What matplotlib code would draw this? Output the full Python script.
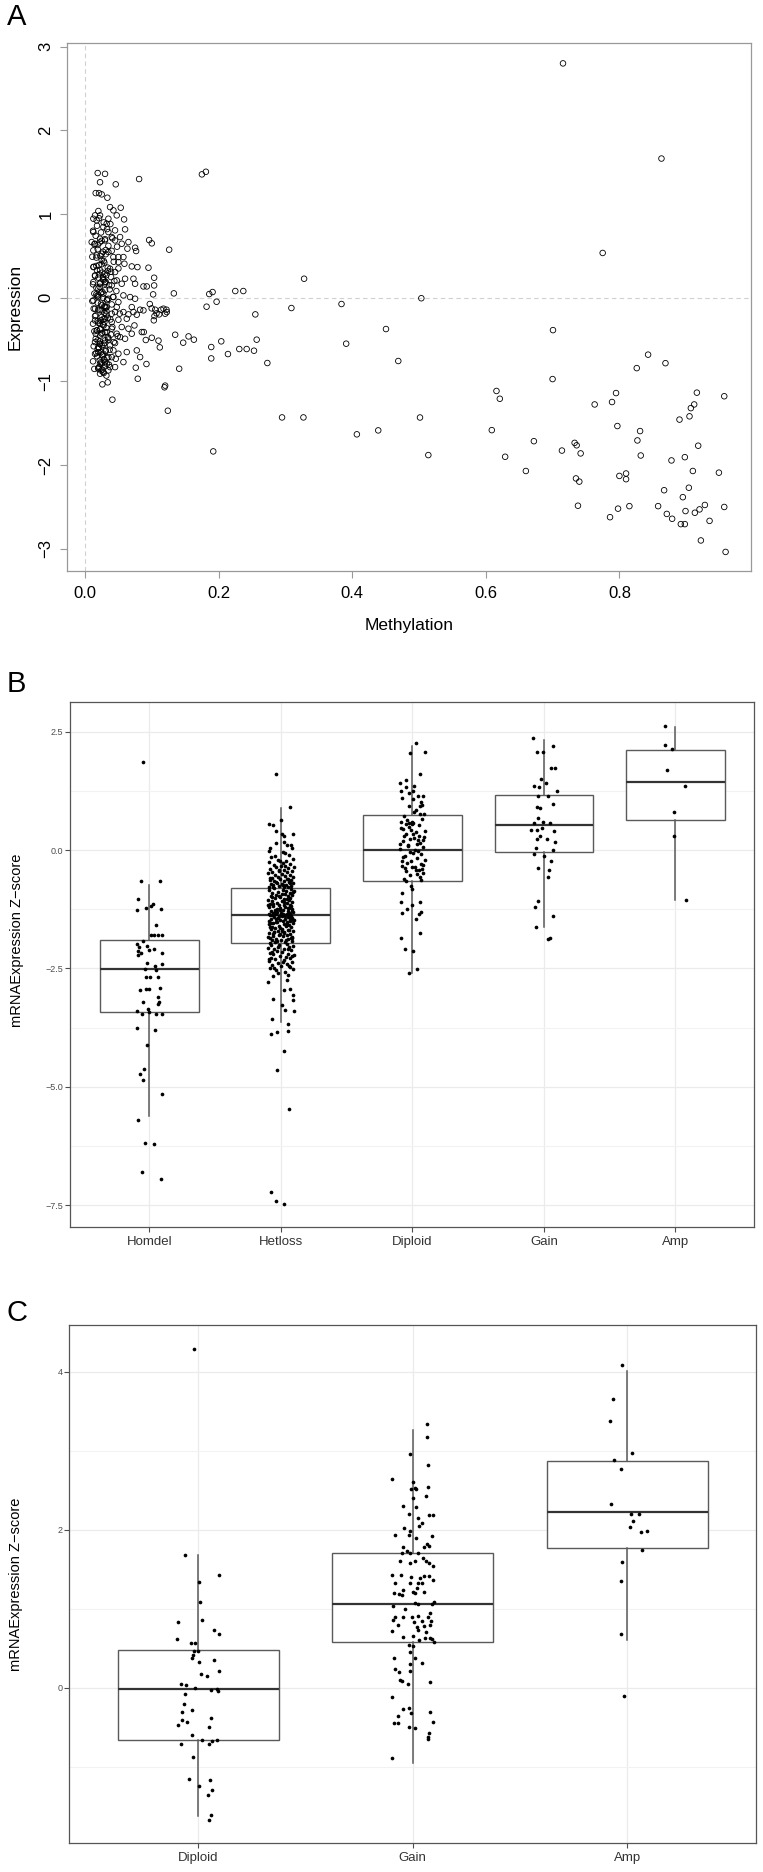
import matplotlib
matplotlib.use("Agg")
import matplotlib.pyplot as plt
from matplotlib.ticker import FixedLocator

plt.rcParams["font.family"] = ["Liberation Sans", "DejaVu Sans"]

# ---------------- Panel A: methylation vs expression ----------------
METH_SPARSE = [0.175, 0.181, 0.081, 0.328, 0.126, 0.133, 0.225, 0.237, 0.186, 0.191,
               0.182, 0.197, 0.255, 0.309, 0.384, 0.102, 0.096, 0.1, 0.095,
               0.4506, 0.391, 0.469, 0.135, 0.147, 0.155, 0.163, 0.141, 0.189, 0.189,
               0.204, 0.214, 0.231, 0.242, 0.253, 0.257, 0.273, 0.295, 0.327, 0.407,
               0.439, 0.192, 0.12, 0.119, 0.124, 0.041, 0.026, 0.034, 0.079, 0.076,
               0.092, 0.11, 0.112, 0.1, 0.091, 0.085, 0.088, 0.103, 0.12, 0.122,
               0.114, 0.097, 0.0998, 0.107, 0.111, 0.104,
               0.7156, 0.863, 0.775, 0.5035, 0.7006, 0.700, 0.843, 0.869, 0.826, 0.616,
               0.621, 0.5015, 0.514, 0.609, 0.629, 0.672, 0.66, 0.714, 0.733, 0.736,
               0.742, 0.735, 0.74, 0.738, 0.763, 0.789, 0.795, 0.797, 0.8, 0.81,
               0.81, 0.798, 0.786, 0.815, 0.827, 0.831, 0.832, 0.858, 0.867, 0.871,
               0.879, 0.878, 0.89, 0.898, 0.905, 0.907, 0.912, 0.916, 0.918, 0.91,
               0.904, 0.895, 0.899, 0.892, 0.898, 0.913, 0.92, 0.928, 0.935, 0.922,
               0.949, 0.957, 0.957, 0.959]
EXPR_SPARSE = [1.474, 1.505, 1.418, 0.227, 0.574, 0.052, 0.08, 0.08, 0.044, 0.068,
               -0.107, -0.048, -0.199, -0.123, -0.075, 0.04, 0.689, 0.65, 0.359,
               -0.374, -0.549, -0.756, -0.442, -0.537, -0.462, -0.501, -0.848, -0.589, -0.725,
               -0.521, -0.673, -0.613, -0.613, -0.633, -0.501, -0.78, -1.43, -1.43, -1.632,
               -1.585, -1.836, -1.05, -1.07, -1.35, -1.218, -1.035, -1.011, -0.968, -0.836,
               -0.792, -0.513, -0.593, -0.478, -0.505, -0.41, -0.41, -0.27, -0.191, -0.143,
               -0.143, -0.075, -0.127, -0.187, -0.199, -0.219,
               2.80, 1.663, 0.535, -0.006, -0.387, -0.972, -0.68, -0.782, -0.841, -1.114,
               -1.207, -1.431, -1.88, -1.582, -1.9, -1.714, -2.07, -1.826, -1.734, -1.763,
               -1.86, -2.159, -2.197, -2.485, -1.275, -1.246, -1.139, -1.533, -2.129, -2.1,
               -2.168, -2.52, -2.622, -2.49, -1.705, -1.593, -1.885, -2.49, -2.3, -2.583,
               -2.641, -1.944, -1.456, -1.905, -1.417, -1.319, -1.275, -1.134, -1.768, -2.07,
               -2.27, -2.383, -2.549, -2.705, -2.705, -2.569, -2.529, -2.476, -2.666, -2.9,
               -2.09, -1.177, -2.5, -3.037]

METH_NEAR = [0.019, 0.030, 0.0225, 0.046, 0.016, 0.021, 0.025, 0.0335, 0.0375, 0.0425,
             0.0535, 0.0475, 0.0585, 0.06, 0.0125, 0.0175, 0.02, 0.015, 0.0225, 0.035,
             0.0325, 0.0275, 0.035, 0.045, 0.04, 0.0125, 0.01, 0.015, 0.0225, 0.03,
             0.045, 0.0525, 0.055, 0.065, 0.0635, 0.075, 0.0765, 0.0125, 0.0175, 0.025,
             0.035, 0.0425, 0.05, 0.0575, 0.059, 0.05, 0.07, 0.0785, 0.0125, 0.015,
             0.0225, 0.03, 0.0375, 0.045, 0.039, 0.0125, 0.0225, 0.03, 0.04, 0.0475,
             0.055, 0.06, 0.0725, 0.075, 0.0875, 0.0925, 0.1035, 0.1035, 0.0125, 0.02,
             0.0275, 0.035, 0.0425, 0.05, 0.0575, 0.0675, 0.075, 0.015, 0.025, 0.0325,
             0.04, 0.0475, 0.0575, 0.07, 0.0725, 0.0825, 0.105, 0.1175, 0.1225, 0.015,
             0.0225, 0.03, 0.04, 0.05, 0.0625, 0.065, 0.0775, 0.0875, 0.0175, 0.025,
             0.0325, 0.04, 0.0475, 0.055, 0.065, 0.074, 0.015, 0.0225, 0.03, 0.0375,
             0.045, 0.0525, 0.06, 0.07, 0.02, 0.0275, 0.035, 0.0425, 0.05, 0.0625,
             0.0775, 0.0825, 0.0225, 0.03, 0.0375, 0.045, 0.0575, 0.02, 0.0275, 0.035,
             0.0225]
EXPR_NEAR = [1.49, 1.48, 1.38, 1.355, 1.25, 1.25, 1.235, 1.195, 1.083, 1.044,
             1.076, 0.984, 0.936, 0.817, 0.944, 0.924, 1.036, 0.984, 0.984, 0.944,
             0.884, 0.845, 0.785, 0.805, 0.725, 0.785, 0.665, 0.645, 0.705, 0.685,
             0.685, 0.725, 0.645, 0.665, 0.586, 0.598, 0.558, 0.566, 0.506, 0.526,
             0.546, 0.486, 0.486, 0.486, 0.406, 0.426, 0.374, 0.366, 0.366, 0.267,
             0.327, 0.287, 0.347, 0.307, 0.247, 0.187, 0.167, 0.187, 0.147, 0.207,
             0.167, 0.227, 0.227, 0.167, 0.135, 0.135, 0.239, 0.147, -0.032, 0.008,
             0.048, -0.012, 0.008, -0.052, 0.028, 0.008, -0.012, -0.131, -0.151, -0.112,
             -0.191, -0.112, -0.171, -0.112, -0.171, -0.143, -0.143, -0.131, -0.171, -0.271,
             -0.311, -0.251, -0.291, -0.263, -0.251, -0.199, -0.203, -0.151, -0.39, -0.43,
             -0.41, -0.37, -0.43, -0.35, -0.37, -0.331, -0.53, -0.55, -0.51, -0.57,
             -0.542, -0.47, -0.49, -0.43, -0.65, -0.669, -0.709, -0.629, -0.669, -0.649,
             -0.629, -0.709, -0.789, -0.769, -0.829, -0.829, -0.769, -0.849, -0.888, -0.868,
             -0.908]

METH_CORE = [0.021, 0.028, 0.018, 0.033, 0.024, 0.016, 0.03, 0.022, 0.035, 0.019,
             0.027, 0.031, 0.017, 0.025, 0.029, 0.021, 0.034, 0.018, 0.026, 0.032,
             0.02, 0.028, 0.023, 0.036, 0.017, 0.03, 0.024, 0.02, 0.027, 0.033,
             0.019, 0.025, 0.031, 0.022, 0.029, 0.016, 0.034, 0.024, 0.02, 0.028,
             0.032, 0.018, 0.026, 0.023, 0.035, 0.019, 0.029, 0.025, 0.021, 0.031,
             0.017, 0.027, 0.033, 0.022, 0.026, 0.03, 0.02, 0.024, 0.028, 0.032,
             0.038, 0.012, 0.041, 0.014, 0.04, 0.011, 0.043, 0.013, 0.039, 0.015,
             0.044, 0.012, 0.037, 0.014, 0.042, 0.011, 0.04, 0.013, 0.045, 0.015,
             0.038, 0.012, 0.041, 0.014, 0.039, 0.016, 0.043, 0.013, 0.037, 0.015,
             0.04, 0.012, 0.036, 0.014, 0.048, 0.05, 0.047, 0.052, 0.049, 0.046,
             0.025, 0.019, 0.031, 0.023, 0.028, 0.017, 0.034, 0.021, 0.027, 0.03,
             0.022, 0.026, 0.018, 0.033, 0.024, 0.029, 0.02, 0.032, 0.025, 0.019,
             0.027, 0.023, 0.03, 0.016, 0.034, 0.022, 0.028, 0.02, 0.031, 0.025,
             0.018, 0.029, 0.024, 0.033, 0.021, 0.026, 0.03, 0.017, 0.028, 0.023,
             0.035, 0.02, 0.027, 0.032, 0.019, 0.025, 0.029, 0.022, 0.031, 0.024]
EXPR_CORE = [0.95, 0.9, 0.86, 0.82, 0.78, 0.74, 0.7, 0.66, 0.62, 0.58,
             0.55, 0.52, 0.48, 0.45, 0.42, 0.39, 0.36, 0.33, 0.3, 0.27,
             0.24, 0.21, 0.18, 0.15, 0.12, 0.09, 0.06, 0.03, 0.0, -0.03,
             -0.06, -0.09, -0.12, -0.15, -0.18, -0.21, -0.24, -0.27, -0.3, -0.33,
             -0.36, -0.39, -0.42, -0.45, -0.48, -0.51, -0.54, -0.57, -0.6, -0.63,
             -0.66, -0.69, -0.72, -0.75, -0.78, -0.81, -0.84, -0.87, -0.9, -0.93,
             0.88, 0.8, 0.71, 0.64, 0.56, 0.49, 0.43, 0.37, 0.31, 0.26,
             0.2, 0.16, 0.1, 0.05, 0.01, -0.04, -0.08, -0.13, -0.17, -0.22,
             -0.26, -0.31, -0.35, -0.4, -0.44, -0.49, -0.53, -0.58, -0.62, -0.67,
             -0.71, -0.76, -0.8, -0.85, 0.61, 0.35, 0.08, -0.19, -0.46, -0.73,
             0.68, 0.63, 0.57, 0.5, 0.44, 0.38, 0.32, 0.28, 0.22, 0.17,
             0.13, 0.07, 0.02, -0.02, -0.07, -0.1, -0.14, -0.2, -0.23, -0.28,
             -0.32, -0.37, -0.41, -0.43, -0.47, -0.52, -0.56, -0.59, -0.64, -0.68,
             -0.7, -0.74, -0.77, -0.79, -0.83, -0.86, -0.11, 0.04, -0.25, -0.38,
             -0.5, 0.11, 0.25, -0.16, -0.61, 0.4, -0.29, -0.55, 0.19, -0.65]

A_XTICKS = [0.0, 0.2, 0.4, 0.6, 0.8]
A_YTICKS = [-3, -2, -1, 0, 1, 2, 3]

# ---------------- Panel B: copy-number groups ----------------
B_GROUPS = ["Homdel", "Hetloss", "Diploid", "Gain", "Amp"]
B_MED = [-2.52, -1.37, 0.0, 0.535, 1.43]
B_Q1 = [-3.42, -1.97, -0.65, -0.04, 0.63]
B_Q3 = [-1.90, -0.80, 0.746, 1.16, 2.12]
B_WLO = [-5.61, -3.64, -2.59, -1.62, -1.05]
B_WHI = [-0.74, 0.88, 2.21, 2.32, 2.60]

HOMDEL_Z = [1.867, -0.649, -0.649, -1.023, -1.262, -1.227, -1.178, -1.129, -1.234, -1.586,
            -1.784, -1.784, -1.784, -1.784, -1.918, -1.988, -2.05, -2.02, -2.08, -2.13,
            -2.18, -2.11, -2.18, -2.21, -2.376, -2.446, -2.41, -2.51, -2.53, -2.68,
            -2.685, -2.69, -2.918, -2.96, -2.94, -2.94, -3.108, -3.22, -3.25, -3.2,
            -3.40, -3.455, -3.355, -3.425, -3.455, -3.46, -3.757, -3.8, -4.123, -4.624,
            -4.736, -4.863, -5.146, -5.70, -6.18, -6.216, -6.81, -6.956]
HOMDEL_DX = [-0.048, -0.063, 0.084, -0.089, -0.094, -0.025, 0.013, 0.028, 0.089, 0.05,
             0.015, 0.038, 0.094, 0.066, -0.05, -0.091, -0.078, -0.018, 0.033, -0.089,
             -0.061, -0.005, 0.096, -0.086, -0.015, 0.043, 0.094, -0.033, 0.051, 0.003,
             0.066, -0.028, 0.084, -0.068, -0.028, -0.005, 0.068, 0.071, 0.063, -0.045,
             -0.096, -0.053, -0.013, -0.005, 0.051, 0.094, -0.094, 0.046, -0.015, -0.043,
             -0.073, -0.048, 0.099, -0.083, -0.033, 0.038, -0.053, 0.086]

HETLOSS_Z = [1.613, 0.901, 0.64, 0.55, 0.529, 0.408, 0.345, 0.302, 0.345, 0.154,
             0.042, -0.015, 0.161, 0.106, 0.106, 0.055, -0.063, -0.030,
             -0.11, -0.14, -0.18, -0.2, -0.22, -0.25, -0.27, -0.29, -0.31, -0.33,
             -0.35, -0.36, -0.38, -0.4, -0.41, -0.43, -0.44, -0.46, -0.47, -0.49,
             -0.5, -0.52, -0.53, -0.55, -0.56, -0.57, -0.59, -0.6, -0.61, -0.63,
             -0.64, -0.65, -0.66, -0.68, -0.69, -0.7, -0.71, -0.72, -0.73, -0.74,
             -0.75, -0.76, -0.77, -0.78, -0.79, -0.12, -0.23, -0.34, -0.45, -0.58,
             -0.62, -0.67, -0.7, -0.74, -0.78,
             -0.81, -0.82, -0.84, -0.85, -0.86, -0.88, -0.89, -0.9, -0.92, -0.93,
             -0.94, -0.95, -0.97, -0.98, -0.99, -1.01, -1.02, -1.03, -1.05, -1.06,
             -1.07, -1.08, -1.1, -1.11, -1.12, -1.13, -1.15, -1.16, -1.17, -1.18,
             -1.2, -1.21, -1.22, -1.23, -1.24, -1.26, -1.27, -1.28, -1.29, -1.3,
             -1.31, -1.32, -1.33, -1.34, -1.35, -1.36, -1.37, -1.38, -1.39, -1.4,
             -1.41, -1.42, -1.43, -1.44, -1.45, -1.46, -1.47, -1.48, -1.49, -1.5,
             -1.51, -1.52, -1.53, -1.55, -1.56, -1.57, -1.58, -1.6, -1.61, -1.62,
             -1.63, -1.65, -1.66, -1.67, -1.69, -1.7, -1.71, -1.73, -1.74, -1.75,
             -1.77, -1.78, -1.79, -1.81, -1.82, -1.84, -1.85, -1.87, -1.88, -1.9,
             -1.91, -1.93, -1.94, -1.95, -1.96, -0.87, -0.96, -1.04, -1.14, -1.19,
             -1.25, -1.33, -1.36, -1.39, -1.42, -1.45, -1.48, -1.54, -1.59, -1.64,
             -1.68, -1.72, -1.76, -1.8, -1.83, -1.86, -1.89, -1.92, -0.91, -1.0,
             -1.09, -1.16, -1.23, -1.28, -1.31, -1.35, -1.38, -1.41, -1.44, -1.47,
             -1.52, -1.57, -1.63, -1.7, -1.78, -1.85, -1.26, -1.34, -1.4, -1.5,
             -1.98, -2.0, -2.02, -2.04, -2.05, -2.07, -2.09, -2.1, -2.12, -2.14,
             -2.15, -2.17, -2.19, -2.2, -2.22, -2.24, -2.26, -2.27, -2.29, -2.31,
             -2.33, -2.35, -2.37, -2.39, -2.41, -2.43, -2.45, -2.47, -2.5, -2.52,
             -2.54, -2.57, -2.01, -2.08, -2.16, -2.23, -2.3, -2.36, -2.44, -2.49,
             -2.79, -2.65, -2.59, -2.74, -2.63, -2.954, -2.94, -3.06, -3.165, -3.145,
             -3.28, -3.376, -3.397, -3.56, -3.68, -3.877, -3.849, -3.82, -4.243, -4.652,
             -5.47, -7.218, -7.42, -7.47]
HETLOSS_DX = [-0.04, 0.068, 0.0, -0.086, -0.056, -0.035, 0.008, 0.025, 0.096, -0.035,
              -0.081, -0.086, 0.028, 0.048, 0.076, 0.086, 0.035, 0.015,
              0.062, -0.071, 0.09, -0.024, 0.041, -0.088, 0.017, 0.074, -0.052, 0.003,
              0.098, -0.035, 0.056, -0.079, 0.028, -0.011, 0.083, -0.063, 0.047, -0.094,
              0.012, 0.069, -0.042, 0.035, -0.018, 0.091, -0.067, 0.052, -0.003, 0.077,
              -0.085, 0.021, -0.048, 0.063, -0.029, 0.095, 0.006, -0.074, 0.039, -0.057,
              0.081, -0.013, 0.024, -0.091, 0.058, -0.045, -0.006, 0.031, -0.016, -0.083,
              0.045, -0.037, 0.072, 0.014, -0.06,
              -0.052, 0.077, 0.018, -0.089, 0.043, -0.021, 0.096, -0.064, 0.031, 0.007,
              -0.038, 0.084, -0.076, 0.055, -0.008, 0.069, -0.047, 0.024, -0.097, 0.061,
              0.012, -0.069, 0.088, -0.031, 0.047, -0.084, 0.026, -0.015, 0.073, -0.058,
              0.036, -0.093, 0.064, -0.004, 0.082, -0.043, 0.019, -0.071, 0.053, -0.026,
              0.091, -0.061, 0.004, 0.067, -0.036, 0.045, -0.082, 0.029, -0.011, 0.078,
              -0.049, 0.058, -0.019, 0.086, -0.073, 0.034, -0.006, 0.071, -0.092, 0.015,
              0.049, -0.028, 0.094, -0.056, 0.022, -0.086, 0.062, -0.014, 0.039, -0.067,
              0.081, -0.041, 0.009, -0.078, 0.057, -0.023, 0.093, -0.051, 0.027, -0.087,
              0.068, -0.009, 0.044, -0.062, 0.017, -0.095, 0.075, -0.033, 0.052, -0.07,
              0.002, 0.087, -0.046, 0.033, -0.081, 0.099, -0.012, 0.046, -0.059, 0.08,
              -0.025, 0.059, -0.088, 0.011, 0.072, -0.039, 0.097, -0.074, 0.038, -0.003,
              0.066, -0.054, 0.023, -0.017, 0.089, -0.079, 0.041, -0.032, 0.074, -0.066,
              0.028, -0.098, 0.054, 0.085, -0.044, 0.016, -0.07, 0.063, -0.022, 0.092,
              -0.034, 0.05, -0.084, 0.006, -0.057, 0.083, -0.007, -0.049, 0.035, 0.068,
              0.044, -0.072, 0.091, -0.018, 0.065, -0.094, 0.027, -0.048, 0.079, -0.03,
              0.011, -0.083, 0.057, -0.061, 0.099, -0.005, 0.037, -0.077, 0.068, -0.042,
              0.021, -0.09, 0.084, -0.024, 0.049, -0.066, 0.005, 0.073, -0.052, 0.093,
              -0.036, 0.03, -0.01, 0.058, -0.068, 0.083, -0.087, 0.015, 0.061, -0.079,
              -0.094, -0.056, -0.018, 0.046, 0.058, 0.028, 0.071, 0.096, 0.096, -0.061,
              0.013, 0.033, 0.101, -0.068, 0.053, -0.076, -0.03, 0.053, 0.025, -0.03,
              0.066, -0.078, -0.04, 0.028]

DIPLOID_Z = [2.26, 2.057, 2.065, 1.604, 1.41, 1.49, 1.338, 1.353, 1.216, 1.15,
             1.15, 1.247, 1.256, 1.11, 1.07, 1.006, 0.924, 0.932, 0.949, 0.852,
             0.803, 0.60, 0.64, 0.60, 0.544, 0.48, 0.577, 0.763, 0.755, 0.44,
             0.423, 0.342, 0.302, 0.302, 0.22, 0.237, 0.123, 0.108, 0.002, -0.152,
             -0.224, -0.264, -0.347, -0.427, -0.41, -0.305, -0.167, -0.387, -0.646, -0.751,
             -0.83, -0.629, -0.507, -0.912, -1.098, -1.155, -1.252, -1.098, -1.318, -1.357,
             -1.332, -1.446, -1.762, -1.86, -2.094, -2.142, -2.587, -2.514,
             0.72, 0.66, 0.58, 0.52, 0.47, 0.38, 0.33, 0.28, 0.25, 0.19,
             0.15, 0.09, 0.06, 0.03, -0.02, -0.05, -0.09, -0.12, -0.2, -0.24,
             -0.29, -0.33, -0.36, -0.44, -0.48, -0.52, -0.56, -0.6, 0.41, 0.13,
             -0.07, -0.4, 0.55, 0.22]
DIPLOID_DX = [0.025, -0.018, 0.096, 0.061, -0.094, -0.048, -0.048, 0.015, -0.025, 0.046,
              0.084, 0.008, -0.086, -0.081, 0.008, 0.066, -0.023, 0.056, 0.071, 0.028,
              0.015, -0.089, -0.043, 0.0, -0.048, -0.023, 0.008, 0.089, 0.058, -0.073,
              -0.013, 0.008, -0.061, 0.053, 0.078, -0.018, 0.033, -0.035, 0.02, -0.068,
              -0.081, -0.043, -0.005, 0.028, 0.053, 0.084, 0.033, -0.056, -0.048, -0.013,
              0.0, 0.063, 0.038, -0.081, -0.089, -0.005, -0.038, 0.058, 0.063, 0.051,
              -0.081, 0.028, 0.056, -0.086, -0.056, 0.003, -0.025, 0.038,
              -0.061, 0.072, -0.028, 0.049, -0.085, 0.031, -0.047, 0.088, 0.012, -0.072,
              0.056, -0.033, 0.079, -0.09, 0.041, -0.016, 0.064, -0.055, 0.093, -0.008,
              0.069, -0.077, 0.022, -0.046, 0.085, -0.02, 0.058, -0.066, 0.096, -0.092,
              0.006, 0.074, -0.004, 0.047]

GAIN_B_Z = [2.364, 2.074, 2.082, 2.194, 1.734, 1.734, 1.507, 1.427, 1.345, 1.33,
            1.24, 1.143, 1.135, 0.964, 0.909, 0.892, 0.683, 0.569, 0.586, 0.577,
            0.423, 0.415, 0.463, 0.406, 0.302, 0.245, 0.245, 0.171, 0.042, 0.002,
            -0.087, -0.127, -0.224, -0.387, -0.427, -0.564, -1.074, -1.212, -1.39, -1.624,
            -1.884, -1.85]
GAIN_B_DX = [-0.084, -0.053, -0.005, 0.073, 0.058, 0.086, -0.025, 0.013, -0.073, -0.033,
             0.099, -0.041, 0.028, 0.071, -0.053, -0.028, -0.041, -0.076, -0.01, 0.048,
             -0.096, -0.053, -0.015, 0.078, -0.028, -0.053, 0.023, 0.086, -0.058, 0.073,
             -0.078, 0.005, 0.058, -0.046, 0.041, 0.035, -0.041, -0.066, 0.068, -0.061,
             0.035, 0.048]

AMP_B_Z = [2.632, 2.22, 2.129, 1.685, 1.353, 0.811, 0.293, -1.05]
AMP_B_DX = [-0.078, -0.078, -0.028, -0.061, 0.073, -0.013, -0.013, 0.078]

B_YTICKS = [-7.5, -5.0, -2.5, 0.0, 2.5]
B_YMINOR = [-6.25, -3.75, -1.25, 1.25]

# ---------------- Panel C ----------------
C_GROUPS = ["Diploid", "Gain", "Amp"]
C_MED = [-0.02, 1.062, 2.22]
C_Q1 = [-0.657, 0.583, 1.77]
C_Q3 = [0.482, 1.705, 2.87]
C_WLO = [-1.63, -0.95, 0.61]
C_WHI = [1.685, 3.27, 4.01]

DIPLOID_C_Z = [4.292, 1.685, 1.432, 1.343, 1.086, 0.833, 0.854, 0.736, 0.681, 0.614,
               0.563, 0.563, 0.47, 0.415, 0.47, 0.381, 0.348, 0.323, 0.209, 0.171,
               0.153, 0.048, 0.035, 0.001, -0.024, -0.019, -0.041, -0.074, -0.209, -0.31,
               -0.285, -0.411, -0.433, -0.467, -0.382, -0.5, -0.597, -0.66, -0.669, -0.66,
               -0.707, -0.711, -0.879, -1.158, -1.171, -1.243, -1.29, -1.353, -1.614, -1.673]
DIPLOID_C_DX = [-0.019, -0.062, 0.095, 0.006, 0.009, -0.092, 0.017, 0.073, 0.098, -0.098,
                -0.033, -0.014, -0.02, -0.025, -0.002, -0.028, 0.076, 0.003, 0.096, 0.014,
                0.042, -0.079, -0.056, -0.016, 0.058, 0.089, 0.092, -0.062, -0.068, -0.075,
                -0.028, -0.075, -0.053, -0.096, 0.058, 0.05, -0.028, 0.016, 0.064, 0.09,
                0.051, -0.079, -0.026, -0.042, 0.054, 0.003, 0.065, 0.045, 0.058, 0.051]

GAIN_C_Z = [3.339, 3.171, 2.959, 2.821, 2.638,
            2.609, 2.538, 2.513, 2.52, 2.529, 2.428, 2.398, 2.297, 2.292, 2.2,
            2.184, 2.184, 2.153, 2.086, 2.048, 2.027, 1.985, 1.93, 1.93, 1.926,
            1.896, 1.82, 1.799, 1.786, 1.786, 1.736, 1.702, 1.702, 1.71,
            1.609, 1.584, 1.609, 1.647, 1.609, 1.584, 1.542, 1.428, 1.428, 1.406,
            1.386, 1.419, 1.415, 1.361, 1.323, 1.33, 1.33, 1.323, 1.259, 1.238,
            1.204, 1.183, 1.171, 1.2, 1.217, 1.217, 1.039, 1.07, 1.061, 1.09,
            1.061, 1.001, 0.951, 0.892, 0.9, 0.9, 0.909, 0.9, 0.858, 0.837,
            0.846, 0.846, 0.795, 0.773, 0.782, 0.795, 0.723, 0.732, 0.71, 0.639,
            0.656, 0.605, 0.626, 0.63, 0.576, 0.614,
            0.542, 0.529, 0.457, 0.373, 0.31, 0.373, 0.234, 0.204, 0.301, 0.216,
            0.099, 0.086, 0.048, 0.069, -0.121, -0.268, -0.26, -0.357, -0.323, -0.45,
            -0.45, -0.492, -0.513, -0.429, -0.302, -0.576, -0.618, -0.652, -0.893]
GAIN_C_DX = [0.067, 0.065, -0.012, 0.073, -0.096,
             0.0, 0.073, -0.009, 0.016, 0.008, 0.062, 0.0, -0.044, 0.016, -0.016,
             0.076, 0.096, 0.026, 0.042, 0.031, -0.04, -0.012, -0.082, -0.02, 0.089,
             0.014, 0.065, 0.075, 0.053, -0.047, -0.025, -0.051, -0.012, 0.026,
             -0.058, -0.012, 0.011, 0.047, 0.062, 0.076, 0.096, -0.095, -0.056, -0.008,
             0.034, 0.05, 0.076, 0.093, -0.082, -0.012, 0.026, 0.042, 0.019, -0.047,
             -0.087, -0.064, -0.051, 0.011, 0.053, 0.0, -0.09, 0.011, 0.026, 0.1,
             0.089, -0.036, 0.078, -0.082, -0.045, -0.006, 0.022, 0.073, -0.09, 0.006,
             0.042, 0.086, -0.068, 0.019, 0.05, 0.078, -0.096, 0.026, 0.061, -0.047,
             0.003, 0.031, 0.058, 0.081, 0.1, 0.089,
             -0.016, 0.003, -0.012, 0.011, 0.042, -0.086, -0.082, -0.062, -0.012, -0.012,
             -0.059, -0.051, -0.023, 0.081, -0.095, -0.044, -0.02, -0.067, -0.008, -0.086,
             -0.067, -0.016, 0.008, 0.092, 0.078, 0.076, 0.07, 0.073, -0.095]

AMP_C_Z = [4.091, 3.661, 3.375, 2.975, 2.89, 2.772, 2.332, 2.204, 2.204, 2.115,
           2.041, 1.972, 1.981, 1.749, 1.596, 1.354, 0.677, -0.104]
AMP_C_DX = [-0.026, -0.067, -0.081, 0.019, -0.062, -0.03, -0.076, 0.016, 0.054, 0.026,
            0.011, 0.061, 0.092, 0.067, -0.025, -0.028, -0.031, -0.017]

C_YTICKS = [0, 2, 4]
C_YMINOR = [-1, 1, 3]

W, H = 763, 1872
fig = plt.figure(figsize=(W / 100, H / 100), dpi=100)


def axes_from_px(left, top, right, bottom):
    return fig.add_axes([left / W, 1 - bottom / H, (right - left) / W, (bottom - top) / H])


# ---- Panel A (base-graphics look) ----
ax_a = axes_from_px(67.3, 43.3, 751.3, 571)
ax_a.axvline(0, color="#d0d0d0", lw=0.8, ls=(0, (4, 3)), zorder=1)
ax_a.axhline(0, color="#d0d0d0", lw=0.8, ls=(0, (4, 3)), zorder=1)
for xs, ys in [(METH_SPARSE, EXPR_SPARSE), (METH_NEAR, EXPR_NEAR), (METH_CORE, EXPR_CORE)]:
    ax_a.scatter(xs, ys, s=16, facecolors="none", edgecolors="black", linewidths=0.6, zorder=3)
ax_a.set_xlim(-0.0265, 0.9975)
ax_a.set_ylim(-3.265, 3.04)
ax_a.set_xticks(A_XTICKS)
ax_a.set_xticklabels([f"{v:.1f}" for v in A_XTICKS])
ax_a.set_yticks(A_YTICKS)
ax_a.set_yticklabels([f"{v}".replace("-", "\u2212") for v in A_YTICKS])
for lab in ax_a.get_yticklabels():
    lab.set_rotation(90)
    lab.set_va("center")
ax_a.tick_params(axis="both", length=5, width=0.8, color="#999999", labelsize=12)
ax_a.tick_params(axis="x", pad=6)
ax_a.tick_params(axis="y", pad=5)
for sp in ax_a.spines.values():
    sp.set_color("#999999")
    sp.set_linewidth(0.9)
ax_a.set_xlabel("Methylation", fontsize=12.5)
ax_a.xaxis.set_label_coords(0.5, -0.089)
ax_a.set_ylabel("Expression", fontsize=12.5)
ax_a.yaxis.set_label_coords(-0.0648, 0.5)


# ---- Panels B and C (ggplot theme_bw look) ----
def style_gg(ax, groups, yticks, yminor, ylim):
    ax.set_xlim(0.4, len(groups) + 0.6)
    ax.set_ylim(*ylim)
    ax.set_xticks(range(1, len(groups) + 1))
    ax.set_xticklabels(groups)
    ax.set_yticks(yticks)
    ax.set_yticklabels([f"{v:g}".replace("-", "\u2212") if isinstance(v, int) else
                        f"{v:.1f}".replace("-", "\u2212") for v in yticks])
    ax.yaxis.set_minor_locator(FixedLocator(yminor))
    ax.grid(which="major", color="#ebebeb", lw=0.9)
    ax.grid(which="minor", axis="y", color="#f2f2f2", lw=0.8)
    ax.set_axisbelow(True)
    ax.tick_params(which="minor", length=0)
    ax.tick_params(which="major", length=3.5, width=0.8, color="#4d4d4d")
    ax.tick_params(axis="y", labelsize=6.5, labelcolor="#4d4d4d", pad=1.5)
    ax.tick_params(axis="x", labelsize=9.5, labelcolor="#333333", pad=3)
    for sp in ax.spines.values():
        sp.set_color("#555555")
        sp.set_linewidth(0.9)


def draw_boxes(ax, med, q1, q3, lo, hi):
    stats = [dict(med=m, q1=a, q3=b, whislo=l, whishi=h)
             for m, a, b, l, h in zip(med, q1, q3, lo, hi)]
    ax.bxp(stats, positions=list(range(1, len(stats) + 1)), widths=0.75,
           showfliers=False, showcaps=False, patch_artist=True,
           boxprops=dict(facecolor="white", edgecolor="#5a5a5a", linewidth=1.0),
           whiskerprops=dict(color="#5a5a5a", linewidth=1.1),
           medianprops=dict(color="#333333", linewidth=1.6), zorder=2)


def draw_jitter(ax, pos, values, offsets):
    ax.scatter([pos + d for d in offsets], values, s=7, color="black", linewidths=0, zorder=4)


ax_b = axes_from_px(70.3, 701.5, 754.3, 1227.3)
style_gg(ax_b, B_GROUPS, B_YTICKS, B_YMINOR, (-7.97, 3.14))
draw_boxes(ax_b, B_MED, B_Q1, B_Q3, B_WLO, B_WHI)
for pos, vals, offs in [(1, HOMDEL_Z, HOMDEL_DX), (2, HETLOSS_Z, HETLOSS_DX),
                        (3, DIPLOID_Z, DIPLOID_DX), (4, GAIN_B_Z, GAIN_B_DX),
                        (5, AMP_B_Z, AMP_B_DX)]:
    draw_jitter(ax_b, pos, vals, offs)
ax_b.set_xticks(range(1, 6))
ax_b.set_xticklabels(B_GROUPS)
ax_b.set_ylabel("mRNAExpression Z\u2212score", fontsize=10.5)
ax_b.yaxis.set_label_coords(-0.0677, 0.546)

ax_c = axes_from_px(69.3, 1325.3, 756.3, 1843.3)
style_gg(ax_c, C_GROUPS, C_YTICKS, C_YMINOR, (-1.97, 4.59))
draw_boxes(ax_c, C_MED, C_Q1, C_Q3, C_WLO, C_WHI)
for pos, vals, offs in [(1, DIPLOID_C_Z, DIPLOID_C_DX), (2, GAIN_C_Z, GAIN_C_DX),
                        (3, AMP_C_Z, AMP_C_DX)]:
    draw_jitter(ax_c, pos, vals, offs)
ax_c.set_xticks(range(1, 4))
ax_c.set_xticklabels(C_GROUPS)
ax_c.set_ylabel("mRNAExpression Z\u2212score", fontsize=10.5)
ax_c.yaxis.set_label_coords(-0.0674, 0.5)

# panel letters
for letter, ypx in [("A", 17), ("B", 684), ("C", 1313)]:
    fig.text(7 / W, 1 - ypx / H, letter, fontsize=21, va="center", ha="left")

fig.savefig("out.png", dpi=100)
